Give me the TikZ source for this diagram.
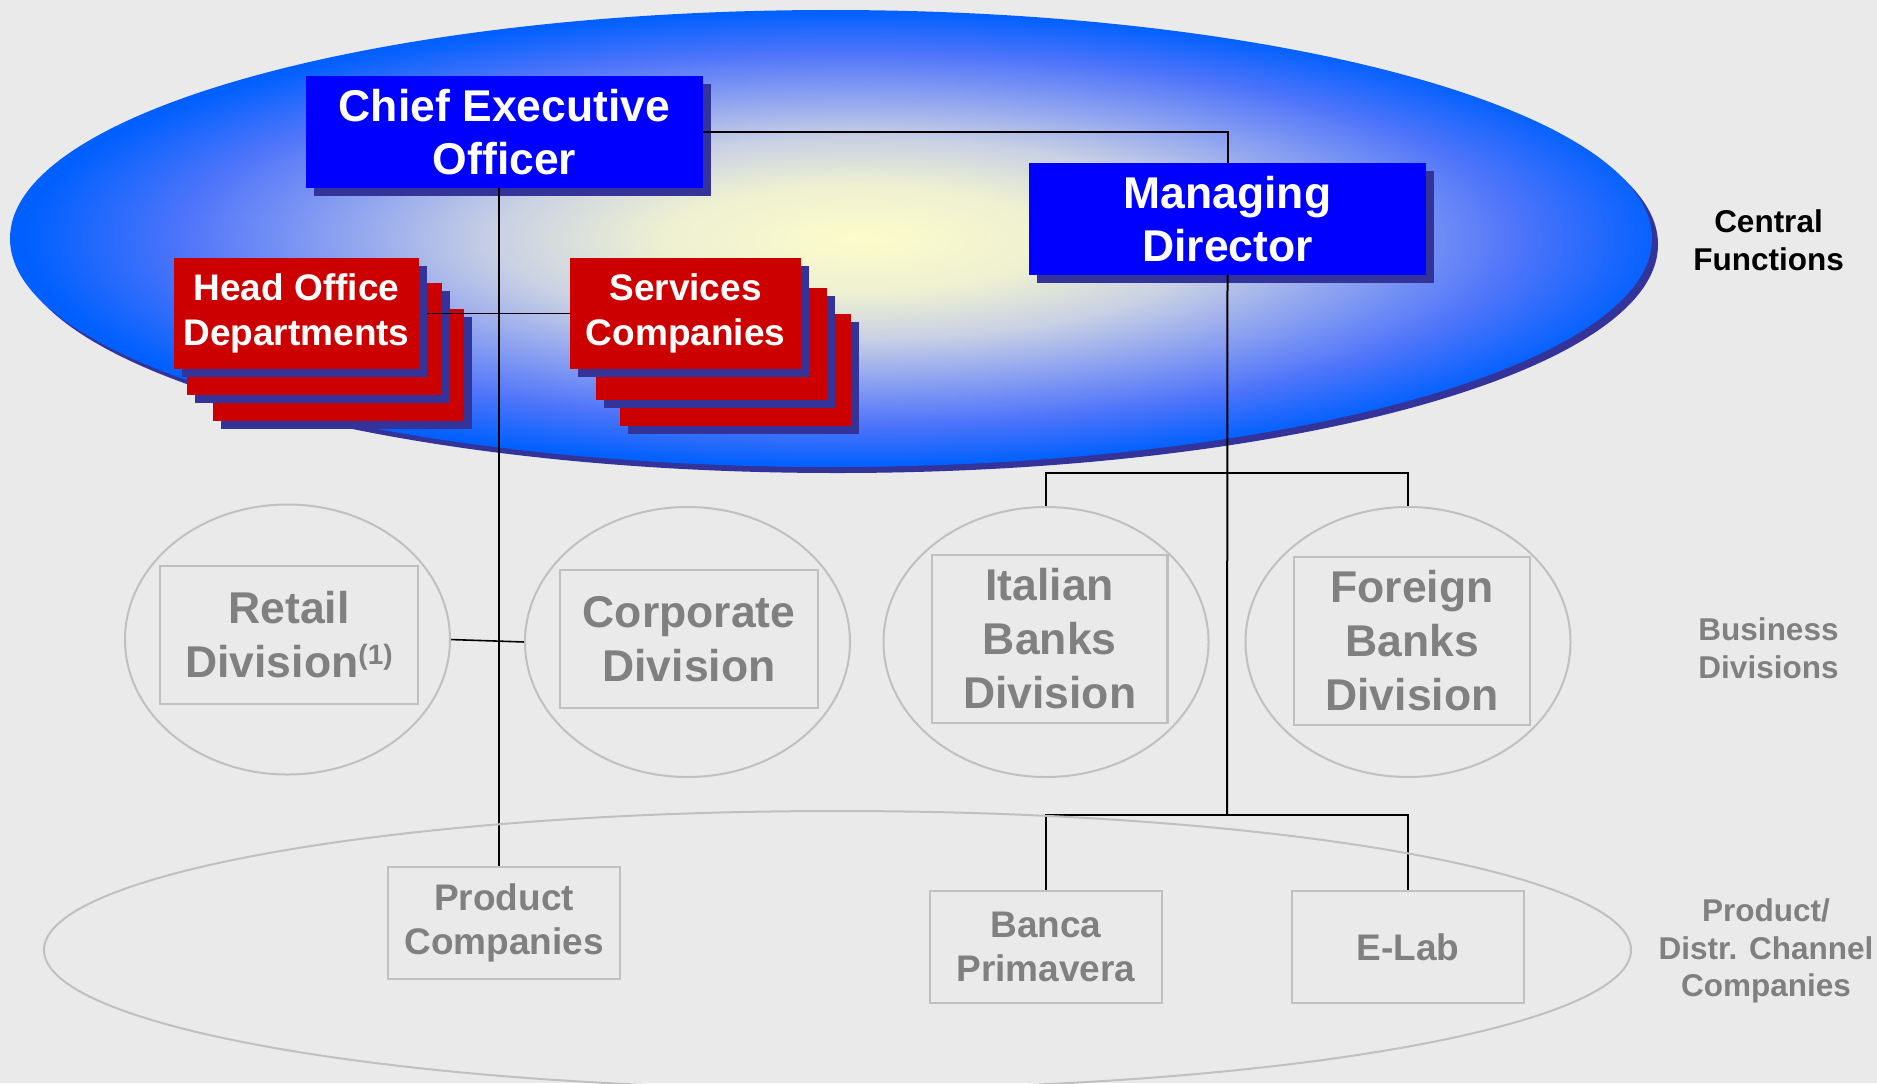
\documentclass[tikz,border=0pt]{standalone}
\usepackage{fontspec}
\setmainfont{Liberation Sans}
\usetikzlibrary{shapes.geometric,calc}
\definecolor{bgc}{RGB}{234,234,234}
\definecolor{ceoblue}{RGB}{0,0,255}
\definecolor{shadowc}{RGB}{51,51,153}
\definecolor{redbox}{RGB}{204,0,0}
\definecolor{grayline}{RGB}{192,192,192}
\definecolor{graytext}{RGB}{128,128,128}
\definecolor{shA}{RGB}{252,252,203}
\definecolor{shB}{RGB}{238,240,210}
\definecolor{shC}{RGB}{200,208,228}
\definecolor{shD}{RGB}{142,163,240}
\definecolor{shE}{RGB}{80,117,250}
\definecolor{shF}{RGB}{0,96,255}
\pgfdeclareradialshading{ovalshade}{\pgfpoint{0.95bp}{0bp}}{color(0bp)=(shA); color(6bp)=(shB); color(11bp)=(shC); color(15.5bp)=(shD); color(20.25bp)=(shE); color(25bp)=(shF); color(50bp)=(shF)}
\pgfdeclarelayer{bg}
\pgfdeclarelayer{stack}
\pgfdeclarelayer{wires}
\pgfsetlayers{bg,stack,wires,main}
\newcommand{\backcard}[4]{\fill[shadowc] (#1+8,#2+8) rectangle (#3+8,#4+8); \fill[redbox] (#1,#2) rectangle (#3,#4);}
\begin{document}
\begin{tikzpicture}[x=1bp,y=-1bp,
  every node/.style={inner sep=0pt, outer sep=0pt},
  bluebox/.style={rectangle, fill=ceoblue, text=white, font=\bfseries\fontsize{44.5bp}{53.3bp}\selectfont, align=center, minimum width=397bp, minimum height=112bp},
  redcard/.style={rectangle, fill=redbox, text=white, font=\bfseries\fontsize{37bp}{45bp}\selectfont, align=center, minimum height=111bp},
  divoval/.style={ellipse, draw=grayline, line width=2bp, minimum width=325bp, minimum height=270bp},
  divbox/.style={rectangle, draw=grayline, line width=2.2bp, text=graytext, font=\bfseries\fontsize{44.5bp}{54bp}\selectfont, align=center},
  cobox/.style={rectangle, draw=grayline, line width=2.2bp, text=graytext, font=\bfseries\fontsize{37bp}{43.5bp}\selectfont, align=center, minimum width=232bp, minimum height=112bp},
  sidelabel/.style={font=\bfseries\fontsize{31.5bp}{37.6bp}\selectfont, align=center},
  wire/.style={draw=black, line width=1.6bp},
  thickwire/.style={draw=black, line width=2bp},
]
\useasboundingbox (0,0) rectangle (1877,1083);
\clip (0,0) rectangle (1877,1083);
\begin{pgfonlayer}{bg}
  \fill[bgc] (0,0) rectangle (1877,1083);
  \fill[shadowc] (837,244.5) ellipse [x radius=821bp, y radius=228.5bp];
  \shade[shading=ovalshade] (831,238.5) ellipse [x radius=821bp, y radius=228.5bp];
\end{pgfonlayer}
\begin{pgfonlayer}{stack}
  % Head office stack (back cards)
  \backcard{213}{309}{464}{421}
  \backcard{187}{283}{442}{395}
  % Services stack (back cards)
  \backcard{620}{314}{851}{426}
  \backcard{596}{288}{827}{400}
\end{pgfonlayer}

% Central functions
\node[bluebox] (ceo) at (504.5,132.3) {Chief Executive\\Officer};
\node[bluebox] (md) at (1227.5,219) {Managing\\Director};
\node[redcard, minimum width=245bp] (hod) at (296.5,313.5) {Head Office\\Departments};
\node[redcard, minimum width=231bp] (svc) at (685.5,313.5) {Services\\Companies};

\begin{pgfonlayer}{stack}
  \foreach \n in {ceo,md,hod,svc}{
    \fill[shadowc] ([shift={(8,8)}]\n.south west) rectangle ([shift={(8,8)}]\n.north east);
  }
\end{pgfonlayer}

% Business divisions
\node[divoval] (retel) at (287.5,639.5) {};
\node[divoval] (corel) at (687.5,642) {};
\node[divoval] (itael) at (1046,642) {};
\node[divoval] (forel) at (1408,642) {};
\node[divbox, minimum width=258bp, minimum height=138bp] (ret) at (289,635) {Retail\\Division\raisebox{13bp}{\fontsize{28bp}{28bp}\selectfont(1)}};
\node[divbox, minimum width=258bp, minimum height=138bp] (cor) at (689,639) {Corporate\\Division};
\node[divbox, minimum width=235.5bp, minimum height=168bp] (ita) at (1049.75,639) {Italian\\Banks\\Division};
\node[divbox, minimum width=236bp, minimum height=168bp] (for) at (1412,641) {Foreign\\Banks\\Division};

% Product / distribution channel companies
\node[ellipse, draw=grayline, line width=2bp, minimum width=1587bp, minimum height=278bp] (pdel) at (837.5,950) {};
\node[cobox] (pc) at (504,923) {Product\\Companies};
\node[cobox] (banca) at (1046,947) {Banca\\Primavera};
\node[cobox] (elab) at (1408,947) {E-Lab};

% Side labels
\node[sidelabel, text=black] (lcf) at (1768.5,240.3) {Central\\Functions};
\node[sidelabel, text=graytext] (lbd) at (1768.5,648.5) {Business\\Divisions};
\node[sidelabel, text=graytext] (lpd) at (1766,951) {Product/\\Distr. Channel\\Companies};

% Connectors
\coordinate (cl) at (499,0);
\coordinate (jb) at (1227,473);
\coordinate (jp) at (1227,815);
\begin{pgfonlayer}{wires}
  \draw[thickwire] (ceo.east) -| (md.north);
  \draw[wire] (ceo.south -| cl) -- (pc.north -| cl);
  \draw[wire] ([xshift=8bp]hod.east) -- (svc.west);
  \draw[thickwire] (md.south) -- (jp);
  \draw[wire] (itael.north) -- (itael.north |- jb) -- (forel.north |- jb) -- (forel.north);
  \draw[wire] (banca.north) -- (banca.north |- jp) -- (elab.north |- jp) -- (elab.north);
  \draw[wire] (retel.east) -- (corel.west);
\end{pgfonlayer}
\end{tikzpicture}
\end{document}
